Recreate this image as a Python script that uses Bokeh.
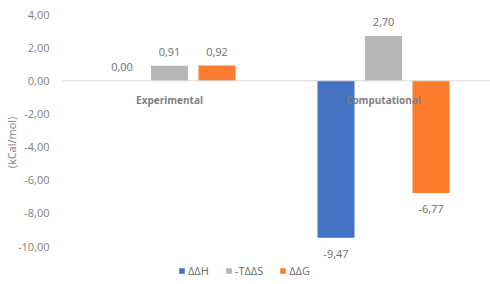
from bokeh.plotting import figure
from bokeh.models import (ColumnDataSource, FactorRange, Range1d, FixedTicker,
                          CustomJSTickFormatter, Span, Legend, LegendItem)
from bokeh.transform import dodge
from bokeh.core.properties import value
from bokeh.embed import file_html
from bokeh.resources import INLINE

# Binding energy decomposition (kCal/mol)
categories = ["Experimental", "Computational"]
series_names = ["ΔΔH", "-TΔΔS", "ΔΔG"]
ddh = [0.00, -9.47]
tds = [0.91, 2.70]
ddg = [0.92, -6.77]
y_ticks = [-10, -8, -6, -4, -2, 0, 2, 4]

colors = ["#4472C4", "#B7B7B7", "#FF7C2E"]
offsets = [-0.222, 0.0, 0.222]
bar_width = 0.173
font = "Open Sans"


def fmt(v):
    return f"{v:.2f}".replace(".", ",")


p = figure(width=490, height=284, output_backend="svg", toolbar_location=None,
           x_range=FactorRange(*categories, range_padding=0),
           y_range=Range1d(-12.293, 4.845), x_axis_location=None,
           min_border_left=10, min_border_right=0, min_border_top=0,
           min_border_bottom=0)
p.outline_line_color = None
p.xgrid.grid_line_color = None
p.ygrid.grid_line_color = None

# zero baseline
p.add_layout(Span(location=0, dimension="width", line_color="#D9D9D9", line_width=1))

items = []
for name, vals, col, off in zip(series_names, [ddh, tds, ddg], colors, offsets):
    src = ColumnDataSource(dict(
        cat=categories, val=vals,
        label=[fmt(v) for v in vals],
        yoff=[-14 if v >= 0 else 16 for v in vals],
    ))
    r = p.vbar(x=dodge("cat", off, range=p.x_range), top="val", bottom=0,
               width=bar_width, source=src, fill_color=col, line_color=None)
    p.text(x=dodge("cat", off, range=p.x_range), y="val", text="label",
           y_offset="yoff", source=src, text_align="center",
           text_baseline="middle", text_font=value(font),
           text_font_size="11px", text_color="#6E6E6E")
    items.append(LegendItem(label=name, renderers=[r]))

# category names sitting on the zero line
cat_src = ColumnDataSource(dict(cat=categories, y=[0, 0]))
p.text(x="cat", y="y", text="cat", source=cat_src, y_offset=19,
       text_align="center", text_baseline="middle", text_font=value(font),
       text_font_size="10px", text_font_style="bold", text_color="#7F7F7F")

yax = p.yaxis[0]
yax.ticker = FixedTicker(ticks=y_ticks)
yax.formatter = CustomJSTickFormatter(code="return tick.toFixed(2).replace('.', ',');")
yax.axis_line_color = None
yax.major_tick_line_color = None
yax.minor_tick_line_color = None
yax.major_tick_out = 0
yax.major_tick_in = 0
yax.minor_tick_out = 0
yax.minor_tick_in = 0
yax.major_label_standoff = 13
yax.major_label_text_font = font
yax.major_label_text_font_size = "11px"
yax.major_label_text_color = "#7F7F7F"
yax.axis_label = "(kCal/mol)"
yax.axis_label_standoff = -4
yax.axis_label_text_font = font
yax.axis_label_text_font_size = "11px"
yax.axis_label_text_font_style = "normal"
yax.axis_label_text_color = "#7F7F7F"

legend = Legend(items=items, orientation="horizontal", location=(116, 6),
                border_line_color=None, background_fill_alpha=0,
                label_text_font=font, label_text_font_size="11px",
                label_text_color="#6E6E6E", glyph_width=7, glyph_height=7,
                label_standoff=3, spacing=16, padding=0, margin=0,
                label_height=12)
p.add_layout(legend)

open("out.html", "w").write(file_html(p, INLINE))
